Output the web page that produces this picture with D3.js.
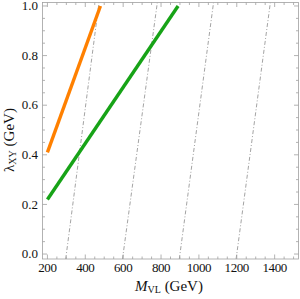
<!DOCTYPE html>
<html>
<head>
<meta charset="utf-8">
<script src="https://cdn.jsdelivr.net/npm/d3@7"></script>
<style>
  html, body { margin: 0; padding: 0; background: #fff; }
  svg { display: block; font-family: "Liberation Serif", "DejaVu Serif", serif; }
</style>
</head>
<body>
<svg id="chart" width="300" height="299"></svg>
<script>
// values
var orangeM = [200, 480];
var orangeL = [0.41, 1.0];
var greenM = [200, 890];
var greenL = [0.22, 1.0];
// dot-dashed guide lines: M at lambda = 0 and at lambda = 1
var guideM0 = [300, 600, 900, 1200];
var guideM1 = [470, 778, 1075, 1375];
var xTicks = [200, 400, 600, 800, 1000, 1200, 1400];
var yTicks = [0.0, 0.2, 0.4, 0.6, 0.8, 1.0];

(function () {
  var pLeft = 42.5, pRight = 298.5, pTop = 2.5, pBottom = 259;

  var x = d3.scaleLinear().domain([174, 1526]).range([pLeft, pRight]);
  var y = d3.scaleLinear().domain([-0.02, 1.014]).range([pBottom, pTop]);

  var svg = d3.select("#chart");
  var frameColor = "#a0a0a0";
  var textColor = "#111";

  svg.append("defs").append("clipPath").attr("id", "plotclip")
    .append("rect")
    .attr("x", pLeft).attr("y", pTop)
    .attr("width", pRight - pLeft).attr("height", pBottom - pTop);

  var plot = svg.append("g").attr("clip-path", "url(#plotclip)");
  var line = d3.line()
    .x(function (d) { return x(d[0]); })
    .y(function (d) { return y(d[1]); });

  // guide lines, extended across the whole frame
  var yd = y.domain();
  guideM0.forEach(function (m0, i) {
    var m1 = guideM1[i];
    var pts = yd.map(function (l) { return [m0 + (m1 - m0) * l, l]; });
    plot.append("path")
      .attr("d", line(pts))
      .attr("fill", "none")
      .attr("stroke", "#8c8c8c")
      .attr("stroke-width", 0.8)
      .attr("stroke-dasharray", "4,2,1,2");
  });

  function curve(ms, ls, color) {
    var pts = ms.map(function (m, i) { return [m, ls[i]]; });
    plot.append("path")
      .attr("d", line(pts))
      .attr("fill", "none")
      .attr("stroke", color)
      .attr("stroke-width", 3.4);
  }
  curve(greenM, greenL, "#17a317");
  curve(orangeM, orangeL, "#ff8000");

  // frame with inward ticks on all four sides
  var frame = svg.append("g").attr("stroke", frameColor).attr("stroke-width", 0.8).attr("fill", "none");
  frame.append("rect")
    .attr("x", pLeft).attr("y", pTop)
    .attr("width", pRight - pLeft).attr("height", pBottom - pTop);

  var xMinor = d3.range(200, 1526, 50).filter(function (v) { return v % 200 !== 0; });
  var yMinor = d3.range(0, 1.01, 0.05).filter(function (v) {
    return Math.abs(v * 5 - Math.round(v * 5)) > 1e-6;
  });

  function xtick(v, len) {
    frame.append("line").attr("x1", x(v)).attr("x2", x(v)).attr("y1", pBottom).attr("y2", pBottom - len);
    frame.append("line").attr("x1", x(v)).attr("x2", x(v)).attr("y1", pTop).attr("y2", pTop + len);
  }
  function ytick(v, len) {
    frame.append("line").attr("y1", y(v)).attr("y2", y(v)).attr("x1", pLeft).attr("x2", pLeft + len);
    frame.append("line").attr("y1", y(v)).attr("y2", y(v)).attr("x1", pRight).attr("x2", pRight - len);
  }
  xTicks.forEach(function (v) { xtick(v, 4.5); });
  xMinor.forEach(function (v) { xtick(v, 2.5); });
  yTicks.forEach(function (v) { ytick(v, 4.5); });
  yMinor.forEach(function (v) { ytick(v, 2.5); });

  // tick labels
  svg.append("g").selectAll("text").data(xTicks).join("text")
    .attr("x", function (d) { return x(d); })
    .attr("y", 272)
    .attr("text-anchor", "middle")
    .attr("font-size", 13)
    .attr("letter-spacing", -0.4)
    .attr("fill", textColor)
    .text(function (d) { return d; });

  svg.append("g").selectAll("text").data(yTicks).join("text")
    .attr("x", 38)
    .attr("y", function (d) { return y(d); })
    .attr("dy", "0.33em")
    .attr("text-anchor", "end")
    .attr("font-size", 13)
    .attr("fill", textColor)
    .text(function (d) { return d.toFixed(1); });

  // axis labels
  var xl = svg.append("text")
    .attr("x", 169).attr("y", 291)
    .attr("text-anchor", "middle")
    .attr("font-size", 15)
    .attr("fill", textColor);
  xl.append("tspan").attr("font-style", "italic").text("M");
  xl.append("tspan").attr("font-size", 10).attr("dy", 2).text("VL");
  xl.append("tspan").attr("dy", -2).text(" (GeV)");

  var yl = svg.append("text")
    .attr("transform", "translate(14,140) rotate(-90)")
    .attr("text-anchor", "middle")
    .attr("font-size", 15)
    .attr("fill", textColor);
  yl.append("tspan").text("λ");
  yl.append("tspan").attr("font-size", 10).attr("dy", 2).text("XY");
  yl.append("tspan").attr("dy", -2).text(" (GeV)");
})();
</script>
</body>
</html>
